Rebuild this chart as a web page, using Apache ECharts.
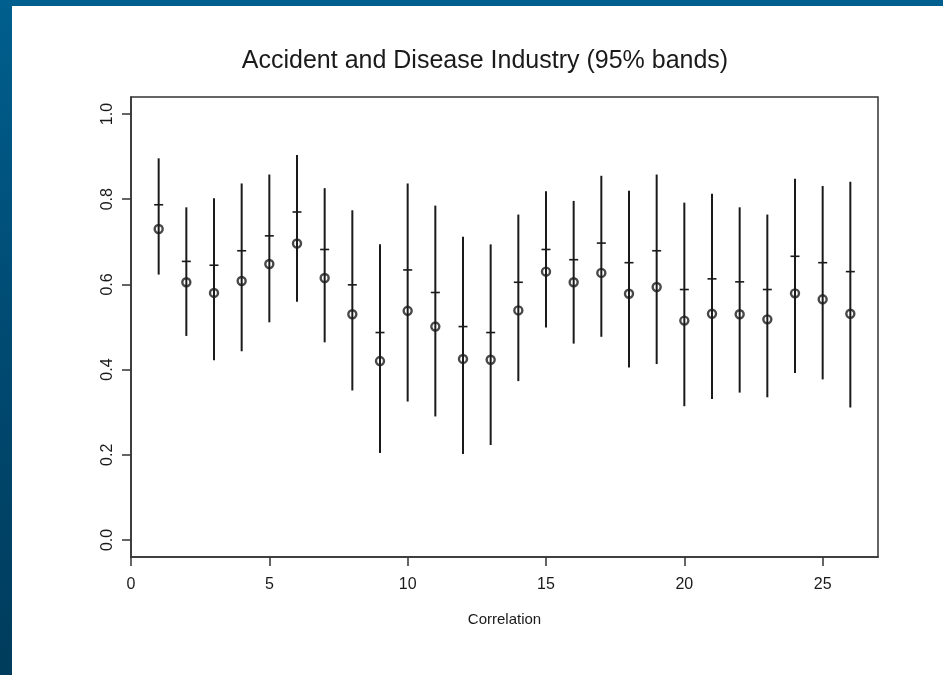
<!DOCTYPE html>
<html>
<head>
<meta charset="utf-8">
<script src="https://cdn.jsdelivr.net/npm/echarts@6/dist/echarts.min.js"></script>
<style>
  html, body { margin: 0; padding: 0; width: 943px; height: 675px; overflow: hidden; }
  body { background: linear-gradient(to bottom, #005f8e 0%, #004a72 50%, #003c5c 100%); position: relative; }
  #chart { position: absolute; left: 12px; top: 6px; width: 931px; height: 669px; background: #ffffff; }
</style>
</head>
<body>
<div id="chart"></div>
<script>
// Data
const index = [1,2,3,4,5,6,7,8,9,10,11,12,13,14,15,16,17,18,19,20,21,22,23,24,25,26];
const estimate = [0.730,0.605,0.580,0.608,0.648,0.696,0.615,0.530,0.420,0.538,0.501,0.425,0.423,0.539,0.630,0.605,0.627,0.578,0.594,0.515,0.531,0.530,0.518,0.579,0.565,0.531];
const marker = [0.787,0.654,0.645,0.679,0.714,0.770,0.682,0.599,0.487,0.634,0.581,0.501,0.487,0.605,0.682,0.658,0.697,0.651,0.679,0.588,0.613,0.606,0.588,0.666,0.651,0.630];
const lower = [0.623,0.479,0.422,0.443,0.511,0.559,0.464,0.351,0.204,0.325,0.290,0.202,0.223,0.373,0.499,0.461,0.477,0.405,0.413,0.314,0.331,0.346,0.335,0.392,0.377,0.311];
const upper = [0.896,0.781,0.802,0.837,0.858,0.904,0.826,0.774,0.694,0.837,0.785,0.712,0.694,0.764,0.819,0.796,0.855,0.820,0.858,0.792,0.813,0.781,0.764,0.848,0.831,0.841];
const xTicks = [0,5,10,15,20,25];
const yTicks = [0,0.2,0.4,0.6,0.8,1.0];
const titleText = 'Accident and Disease Industry (95% bands)';
const xName = 'Correlation';

const bandData = index.map((x, i) => [x, lower[i], upper[i], marker[i]]);
const pointData = index.map((x, i) => [x, estimate[i]]);

const ink = '#1a1a1a';
const font = '"Liberation Sans", Arial, Helvetica, sans-serif';

const chart = echarts.init(document.getElementById('chart'));
chart.setOption({
  animation: false,
  backgroundColor: '#ffffff',
  title: {
    text: titleText,
    left: 468,
    top: 38,
    textAlign: 'center',
    textStyle: { fontFamily: font, fontSize: 25, fontWeight: 'normal', color: ink }
  },
  grid: {
    left: 119, top: 91, width: 747, height: 460,
    show: true, borderColor: '#333', borderWidth: 1.5, backgroundColor: 'transparent'
  },
  xAxis: {
    type: 'value', min: 0, max: 27,
    name: xName, nameLocation: 'middle', nameGap: 55,
    nameTextStyle: { fontFamily: font, fontSize: 15, color: ink },
    axisLine: { show: true, onZero: false, lineStyle: { color: '#333', width: 1.5 } },
    axisTick: { show: true, length: 9, inside: false, customValues: xTicks, lineStyle: { color: '#333', width: 1.5 } },
    axisLabel: { customValues: xTicks, margin: 20, fontFamily: font, fontSize: 16, color: ink },
    splitLine: { show: false }
  },
  yAxis: {
    type: 'value', min: -0.04, max: 1.04,
    axisLine: { show: true, onZero: false, lineStyle: { color: '#333', width: 1.5 } },
    axisTick: { show: true, length: 9, inside: false, customValues: yTicks, lineStyle: { color: '#333', width: 1.5 } },
    axisLabel: { customValues: yTicks, rotate: 90, margin: 15, fontFamily: font, fontSize: 16, color: ink,
                 formatter: v => Number(v).toFixed(1) },
    splitLine: { show: false }
  },
  series: [
    {
      type: 'custom',
      data: bandData,
      renderItem: function (params, api) {
        const lo = api.coord([api.value(0), api.value(1)]);
        const hi = api.coord([api.value(0), api.value(2)]);
        const mk = api.coord([api.value(0), api.value(3)]);
        return {
          type: 'group',
          children: [
            { type: 'line', shape: { x1: lo[0], y1: lo[1], x2: hi[0], y2: hi[1] },
              style: { stroke: ink, lineWidth: 2 } },
            { type: 'line', shape: { x1: mk[0] - 4.5, y1: mk[1], x2: mk[0] + 4.5, y2: mk[1] },
              style: { stroke: ink, lineWidth: 1.6 } }
          ]
        };
      },
      z: 2
    },
    {
      type: 'scatter',
      data: pointData,
      symbol: 'circle',
      symbolSize: 8,
      itemStyle: { color: 'rgba(0,0,0,0)', borderColor: ink, borderWidth: 2.4 },
      z: 3
    }
  ]
});
</script>
</body>
</html>
